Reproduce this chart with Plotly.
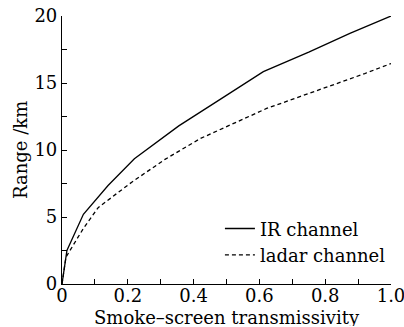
import plotly.graph_objects as go

ir_x = [0, 0.015, 0.065, 0.14, 0.22, 0.355, 0.476, 0.612, 0.75, 0.875, 1.0]
ir_y = [0, 2.5, 5.2, 7.35, 9.35, 11.8, 13.7, 15.85, 17.3, 18.7, 20.0]
ld_x = [0, 0.012, 0.065, 0.11, 0.212, 0.313, 0.42, 0.522, 0.622, 0.725, 0.825, 0.92, 1.0]
ld_y = [0, 2.0, 4.15, 5.7, 7.6, 9.3, 10.85, 12.0, 13.1, 14.0, 14.85, 15.7, 16.45]
x_ticks = [0, 0.2, 0.4, 0.6, 0.8, 1.0]
x_ticktext = ["0", "0.2", "0.4", "0.6", "0.8", "1.0"]
y_ticks = [0, 5, 10, 15, 20]
x_title = "Smoke–screen transmissivity"
y_title = "Range /km"

font = "DejaVu Serif, Liberation Serif, serif"

fig = go.Figure()
fig.add_trace(go.Scatter(x=ir_x, y=ir_y, mode="lines", name="IR channel",
                         line=dict(color="black", width=1.3)))
fig.add_trace(go.Scatter(x=ld_x, y=ld_y, mode="lines", name="ladar channel",
                         line=dict(color="black", width=1.3, dash="4px,3px")))

axis_common = dict(showline=True, linecolor="black", linewidth=1.2, mirror=False,
                   ticks="inside", ticklen=5, tickcolor="black", tickwidth=1,
                   showgrid=False, zeroline=False, automargin=False,
                   ticklabeloverflow="allow",
                   tickfont=dict(family=font, size=18, color="black"))

fig.update_xaxes(range=[0, 1.0], tickvals=x_ticks, ticktext=x_ticktext,
                 ticklabelstandoff=-5,
                 minor=dict(dtick=0.1, ticks="inside", ticklen=5, tickcolor="black"),
                 **axis_common)
fig.update_yaxes(range=[0, 20], tickvals=y_ticks,
                 minor=dict(dtick=2.5, ticks="inside", ticklen=5, tickcolor="black"),
                 **axis_common)

fig.add_annotation(text=x_title, xref="paper", yref="paper", x=0.5, y=0,
                   xanchor="center", yanchor="bottom", yshift=-43, showarrow=False,
                   height=18, borderpad=0,
                   font=dict(family=font, size=18, color="black"))
fig.add_annotation(text=y_title, xref="paper", yref="paper", x=0, y=0.5,
                   xanchor="center", yanchor="middle", xshift=-42, textangle=-90,
                   showarrow=False, font=dict(family=font, size=18, color="black"))

fig.update_layout(
    width=404, height=327,
    margin=dict(l=62, r=13, t=16, b=43),
    plot_bgcolor="white", paper_bgcolor="white",
    showlegend=True,
    legend=dict(x=0.48, y=0.275, xanchor="left", yanchor="top",
                bgcolor="rgba(0,0,0,0)",
                font=dict(family=font, size=18, color="black"),
                tracegroupgap=0, itemwidth=30),
)

fig.write_html("out.html")
